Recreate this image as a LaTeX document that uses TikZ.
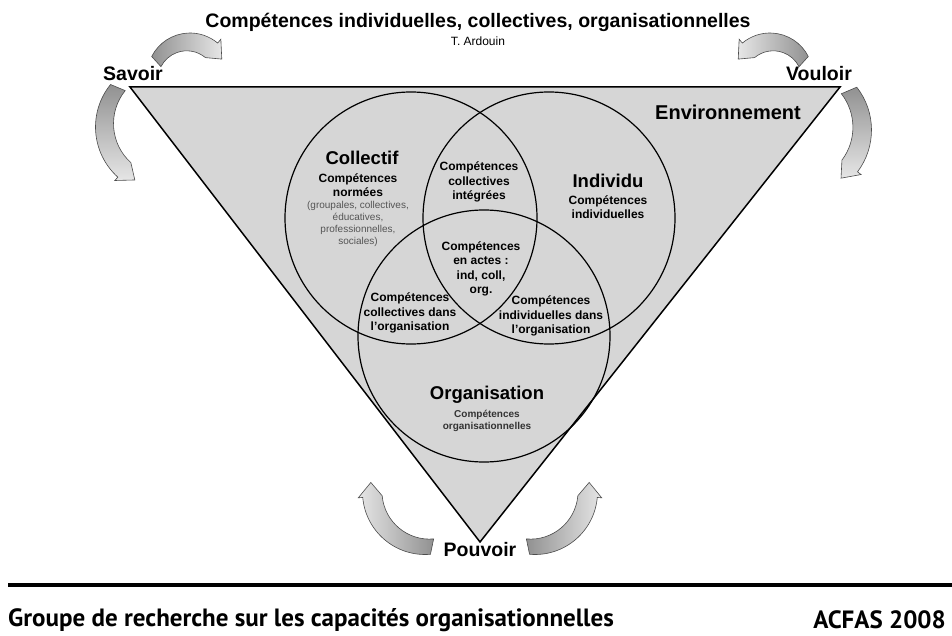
\documentclass[tikz,border=0pt]{standalone}
\usepackage{fontspec}
\setmainfont{Liberation Sans}
\newfontfamily\footfont{PT Sans}
\usetikzlibrary{calc}
\definecolor{trifill}{RGB}{214,214,214}
\definecolor{arrdark}{RGB}{145,145,145}
\definecolor{arrlight}{RGB}{230,230,230}
\definecolor{smallgray}{RGB}{85,85,85}
\newcommand\bentarrow[9]{%
  \pgfmathsetmacro\ab{#5-sign(#5-#4)*#8}%
  \path[bentstyle,#9] ($(#1,#2)+(#4:{#3+#6/2})$)
    arc[start angle=#4,end angle=\ab,radius={#3+#6/2}]
    -- ($(#1,#2)+(\ab:{#3+#7})$) -- ($(#1,#2)+(#5:#3)$)
    -- ($(#1,#2)+(\ab:{#3-#7})$)
    arc[start angle=\ab,end angle=#4,radius={#3-#6/2}] -- cycle;}
\begin{document}
\begin{tikzpicture}[x=1pt,y=-1pt,
  bentstyle/.style={draw=black!70,line width=0.6pt},
  circ/.style={draw=black,line width=1.2pt},
  big/.style={font=\bfseries\fontsize{18.5}{21}\selectfont,inner sep=0pt},
  corner/.style={font=\bfseries\fontsize{19.5}{22}\selectfont,inner sep=0pt},
  mid/.style={font=\bfseries\fontsize{12}{14.5}\selectfont,align=center,inner sep=0pt},
  tiny/.style={font=\fontsize{10}{12}\selectfont,text=smallgray,align=center,inner sep=0pt},
  tinyb/.style={font=\bfseries\fontsize{10}{11.5}\selectfont,text=black!80,align=center,inner sep=0pt},
  foot/.style={font=\footfont\bfseries\fontsize{25}{28}\selectfont,inner sep=0pt}]
\useasboundingbox (0,0) rectangle (952,636);
% triangle
\draw[fill=trifill,line width=1.5pt,line join=miter] (130,87) coordinate (sv) -- (840,87) coordinate (vl) -- (480,542) coordinate (pv) -- cycle;
% circles
\node[circ,circle,minimum size=252pt,inner sep=0pt] (ccol) at (411,218) {};
\node[circ,circle,minimum size=252pt,inner sep=0pt] (cind) at (549,218) {};
\node[circ,circle,minimum size=252pt,inner sep=0pt] (corg) at (484,336) {};
% curved arrows
\bentarrow{190}{76}{36}{207}{332}{14}{12}{22}{left color=arrdark,right color=arrlight}
\bentarrow{770}{76}{36}{333}{208}{14}{12}{22}{left color=arrlight,right color=arrdark}
\bentarrow{163}{127}{60}{219}{118}{15}{12}{14}{top color=arrdark,bottom color=arrlight}
\bentarrow{802}{130}{62}{-38}{51}{15}{12}{14}{top color=arrdark,bottom color=arrlight}
\bentarrow{425}{492}{55}{85}{190}{15}{12}{15}{left color=arrlight,right color=arrdark}
\bentarrow{535}{492}{55}{95}{-10}{15}{12}{15}{left color=arrdark,right color=arrlight}
% titles
\node[font=\bfseries\fontsize{19.5}{22}\selectfont,inner sep=0pt] (title) at (478,22) {Compétences individuelles, collectives, organisationnelles};
\node[font=\fontsize{12}{14}\selectfont,inner sep=0pt] (author) at (478,41) {T. Ardouin};
\node[corner] (savoir) at (133,74) {Savoir};
\node[corner] (vouloir) at (819,74) {Vouloir};
\node[corner] (pouvoir) at (480,550) {Pouvoir};
\node[big,font=\bfseries\fontsize{20}{22}\selectfont] (env) at (728,112) {Environnement};
% circle labels
\node[big] (colt) at (362,158) {Collectif};
\node[mid] (cols) at (358,185) {Compétences\\normées};
\node[tiny] (colg) at (358,224) {(groupales, collectives,\\éducatives,\\professionnelles,\\sociales)};
\node[big] (indt) at (608,181) {Individu};
\node[mid] (inds) at (608,207) {Compétences\\individuelles};
\node[mid] (ci) at (479,182) {Compétences\\collectives\\intégrées};
\node[mid] (act) at (481,269) {Compétences\\en actes :\\ind, coll,\\org.};
\node[mid] (cdo) at (410,313) {Compétences\\collectives dans\\l’organisation};
\node[mid] (ido) at (551,316) {Compétences\\individuelles dans\\l’organisation};
\node[big] (orgt) at (487,395) {Organisation};
\node[tinyb] (orgs) at (487,421) {Compétences\\organisationnelles};
% footer
\draw[line width=4pt] (8,585) coordinate (rl) -- (952,585) coordinate (rr);
\node[foot,anchor=west] (grp) at (8,620) {Groupe de recherche sur les capacités organisationnelles};
\node[foot,anchor=east] (acfas) at (946,620) {ACFAS 2008};
\end{tikzpicture}
\end{document}
